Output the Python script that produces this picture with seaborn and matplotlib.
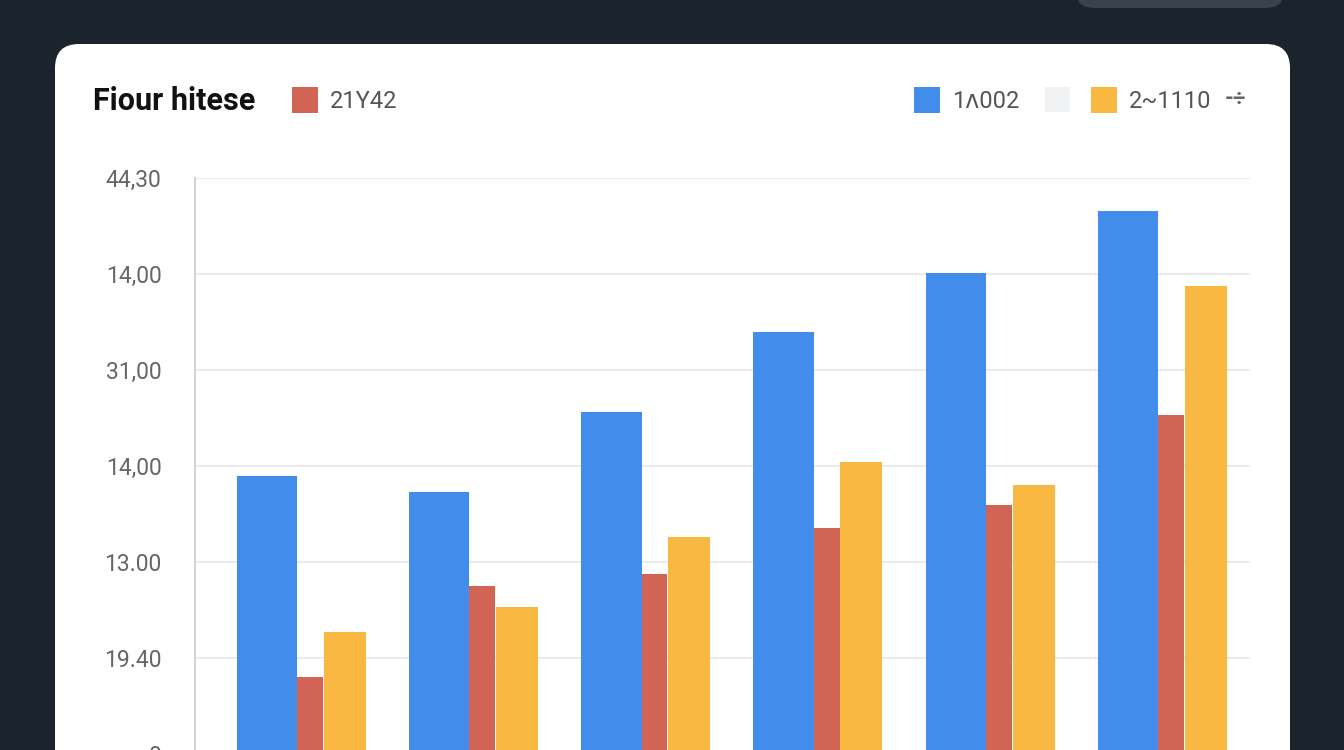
import numpy as np
import matplotlib
matplotlib.use("Agg")
import matplotlib.pyplot as plt
from matplotlib.patches import FancyBboxPatch, Rectangle
import pandas as pd
import seaborn as sns

# values (in tick steps, 0 = bottom line)
groups = ["g1", "g2", "g3", "g4", "g5", "g6"]
series = ["1ʌ002", "21Y42", "2~1110"]
blue_vals = [2.90, 2.73, 3.56, 4.40, 5.01, 5.66]
red_vals = [0.80, 1.75, 1.88, 2.35, 2.59, 3.53]
orange_vals = [1.27, 1.53, 2.26, 3.04, 2.80, 4.88]
ytick_pos = [0, 1, 2, 3, 4, 5, 6]
ytick_labels = ["0", "19.40", "13.00", "14,00", "31,00", "14,00", "44,30"]
title = "Fiour hitese"

colors = {"1ʌ002": "#428DEB", "21Y42": "#D26455", "2~1110": "#F9B842"}

sns.set_theme(style="white")
plt.rcParams["font.family"] = ["Roboto", "DejaVu Sans"]

df = pd.DataFrame({
    "group": groups * 3,
    "series": [series[0]] * 6 + [series[1]] * 6 + [series[2]] * 6,
    "value": blue_vals + red_vals + orange_vals,
})

W, H = 1344, 750
fig = plt.figure(figsize=(W / 100, H / 100), dpi=100)
fig.patch.set_facecolor("#1B232D")

# pixel-space background layer: dark page, white card, pill at top
bg = fig.add_axes([0, 0, 1, 1], zorder=0)
bg.set_xlim(0, W)
bg.set_ylim(H, 0)
bg.axis("off")
bg.add_patch(FancyBboxPatch((55, 44), 1235, 800, boxstyle="round,pad=0,rounding_size=24",
                            fc="white", ec="none"))
bg.add_patch(FancyBboxPatch((1075, -40), 210, 48, boxstyle="round,pad=0,rounding_size=20",
                            fc="#3A434D", ec="none"))

# header: title + legend swatches
bg.text(93, 101, title, fontsize=22, fontweight="bold", color="#111111", va="center", ha="left")
legend_items = [(292, "21Y42"), (914, "1ʌ002"), (1091, "2~1110")]
for x0, name in legend_items:
    bg.add_patch(Rectangle((x0, 87), 26, 26, fc=colors[name], ec="none"))
    bg.text(x0 + 38, 101, name, fontsize=17, color="#555555", va="center", ha="left")
bg.add_patch(Rectangle((1045, 87), 25, 25, fc="#F1F2F3", ec="none"))
bg.text(1236, 99, "-÷", fontsize=16, color="#666666", va="center", ha="center", fontweight="bold")

# chart
ax = fig.add_axes([195 / W, -4 / H, 1055 / W, 576 / H], zorder=1)
ax.set_facecolor("none")
sns.barplot(data=df, x="group", y="value", hue="series", hue_order=series,
            palette=colors, width=0.75, saturation=1, legend=False, ax=ax)

# uneven bar widths within each group
widths = [0.35, 0.15, 0.245]
offsets = [0.0, 0.35, 0.504]
for k, cont in enumerate(ax.containers):
    for i, p in enumerate(cont.patches):
        p.set_x(i - 0.375 + offsets[k])
        p.set_width(widths[k])
        p.set_edgecolor("none")
        p.set_linewidth(0)

ax.set_xlim(-0.618, 5.508)
ax.set_ylim(0, 6)
ax.set_yticks(ytick_pos)
ax.set_yticklabels(ytick_labels)
ax.tick_params(axis="y", length=0, pad=24, labelsize=16.5, labelcolor="#666666")
ax.set_xticks([])
ax.set_xlabel("")
ax.set_ylabel("")
ax.yaxis.grid(True, color="#EBEBEB", linewidth=1.5)
ax.set_axisbelow(True)
for s in ["top", "right", "bottom"]:
    ax.spines[s].set_visible(False)
ax.spines["left"].set_color("#D5D5D5")
ax.spines["left"].set_linewidth(1.5)

fig.savefig("out.png", dpi=100, facecolor=fig.get_facecolor())
